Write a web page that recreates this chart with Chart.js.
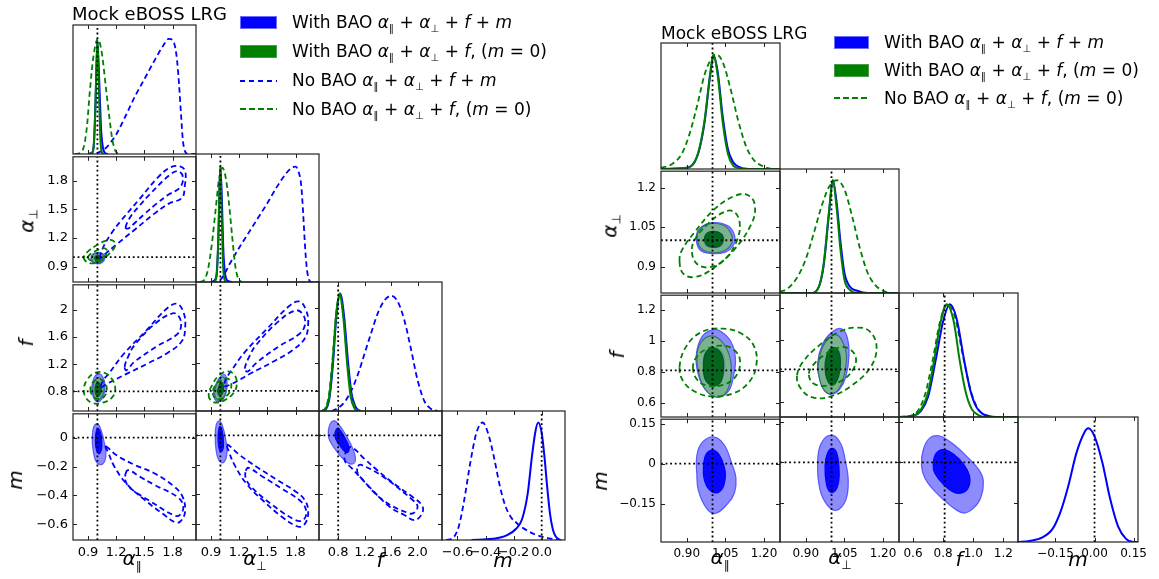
<!DOCTYPE html>
<html>
<head>
<meta charset="utf-8">
<title>Mock eBOSS LRG</title>
<script src="https://cdn.jsdelivr.net/npm/chart.js@4.4.1/dist/chart.umd.min.js"></script>
<style>
  html, body { margin: 0; padding: 0; background: #fff; }
  #page { position: relative; width: 1159px; height: 579px; overflow: hidden; font-family: "DejaVu Sans", sans-serif; color: #000; }
  #page canvas { position: absolute; }
  .txt { position: absolute; white-space: nowrap; line-height: 1; will-change: transform; }
  .c { transform: translate(-50%, -50%); }
  .rot { transform: translate(-50%, -50%) rotate(-90deg); }
  .it { font-style: italic; }
  .sb { font-size: 60%; vertical-align: -0.35em; }
  .swatch { position: absolute; box-sizing: border-box; }
  .dash { position: absolute; height: 2px; }
</style>
</head>
<body>
<div id="page"></div>
<script>
// ---------------- left triangle: axes ----------------
const leftAlphaRange = [0.74, 2.05];
const leftFRange = [0.51, 2.37];
const leftMRange = [-0.71, 0.166];
const leftAlphaTicks = [0.9, 1.2, 1.5, 1.8];
const leftAlphaTickLabels = ["0.9", "1.2", "1.5", "1.8"];
const leftFTicks = [0.8, 1.2, 1.6, 2.0];
const leftFTickLabelsX = ["0.8", "1.2", "1.6", "2.0"];
const leftFTickLabelsY = ["0.8", "1.2", "1.6", "2"];
const leftMTicks = [-0.6, -0.4, -0.2, 0];
const leftMTickLabelsX = ["−0.6", "−0.4", "−0.2", "0.0"];
const leftMTickLabelsY = ["−0.6", "−0.4", "−0.2", "0"];
const leftTruth = [1.0, 1.0, 0.8, 0.0];
const leftDiagMax = 1.12;

// ---------------- right triangle: axes ----------------
const rightAlphaRange = [0.8, 1.262];
const rightFRange = [0.507, 1.297];
const rightMRange = [-0.294, 0.167];
const rightAlphaTicks = [0.9, 1.05, 1.2];
const rightAlphaTickLabelsX = ["0.90", "1.05", "1.20"];
const rightAlphaTickLabelsY = ["0.9", "1.05", "1.2"];
const rightFTicks = [0.6, 0.8, 1.0, 1.2];
const rightFTickLabelsX = ["0.6", "0.8", "1.0", "1.2"];
const rightFTickLabelsY = ["0.6", "0.8", "1", "1.2"];
const rightMTicks = [-0.15, 0, 0.15];
const rightMTickLabelsX = ["−0.15", "0.00", "0.15"];
const rightMTickLabelsY = ["−0.15", "0", "0.15"];
const rightTruth = [1.0, 1.0, 0.81, 0.0];
const rightDiagMax = 1.1;

// ---------------- left triangle: 1D posteriors [value, density] ----------------
const lAparBao = [[0.9,0],[0.94,0.01],[0.96,0.06],[0.98,0.45],[1.0,0.98],[1.02,0.62],[1.04,0.2],[1.06,0.05],[1.08,0.01],[1.11,0]];
const lAparBaoM0 = [[0.92,0],[0.95,0.02],[0.97,0.2],[0.985,0.62],[1.0,1.0],[1.015,0.6],[1.03,0.16],[1.045,0.02],[1.07,0]];
const lAparNoBao = [[0.9,0],[1.0,0.01],[1.05,0.03],[1.1,0.06],[1.15,0.11],[1.2,0.17],[1.3,0.33],[1.4,0.5],[1.5,0.65],[1.6,0.8],[1.7,0.94],[1.76,1.0],[1.8,0.99],[1.83,0.92],[1.85,0.8],[1.87,0.6],[1.89,0.35],[1.91,0.12],[1.93,0.03],[1.96,0],[2.05,0]];
const lAparNoBaoM0 = [[0.76,0],[0.82,0.01],[0.86,0.08],[0.89,0.25],[0.92,0.55],[0.96,0.86],[1.005,1.0],[1.05,0.86],[1.09,0.58],[1.13,0.3],[1.16,0.12],[1.19,0.03],[1.23,0]];

const lAperpBao = [[0.9,0],[0.95,0.03],[0.975,0.3],[0.99,0.8],[1.0,1.0],[1.015,0.75],[1.03,0.3],[1.05,0.07],[1.08,0.01],[1.12,0]];
const lAperpBaoM0 = [[0.93,0],[0.96,0.05],[0.98,0.45],[0.998,1.02],[1.015,0.55],[1.03,0.12],[1.05,0.01],[1.07,0]];
const lAperpNoBao = [[0.9,0],[1.0,0.02],[1.05,0.08],[1.1,0.16],[1.2,0.3],[1.3,0.43],[1.4,0.56],[1.5,0.69],[1.6,0.83],[1.7,0.95],[1.76,1.0],[1.8,1.01],[1.83,0.97],[1.86,0.85],[1.88,0.62],[1.9,0.33],[1.92,0.12],[1.94,0.03],[1.97,0],[2.05,0]];
const lAperpNoBaoM0 = [[0.78,0],[0.83,0.02],[0.87,0.12],[0.91,0.34],[0.95,0.64],[0.985,0.9],[1.02,1.0],[1.055,0.92],[1.09,0.7],[1.125,0.4],[1.16,0.13],[1.19,0.03],[1.23,0]];

const lFBao = [[0.55,0],[0.62,0.02],[0.67,0.12],[0.72,0.4],[0.77,0.8],[0.83,1.02],[0.89,0.82],[0.95,0.42],[1.0,0.16],[1.06,0.04],[1.12,0]];
const lFBaoM0 = [[0.55,0],[0.62,0.03],[0.67,0.14],[0.72,0.45],[0.77,0.84],[0.82,1.02],[0.88,0.8],[0.94,0.38],[0.99,0.12],[1.05,0.02],[1.1,0]];
const lFNoBao = [[0.7,0],[0.78,0.02],[0.9,0.08],[1.0,0.18],[1.1,0.32],[1.2,0.5],[1.3,0.68],[1.4,0.85],[1.5,0.96],[1.6,1.0],[1.7,0.95],[1.8,0.79],[1.9,0.54],[2.0,0.27],[2.1,0.09],[2.2,0.02],[2.3,0]];
const lFNoBaoM0 = [[0.55,0],[0.61,0.03],[0.66,0.14],[0.71,0.42],[0.77,0.85],[0.82,1.0],[0.88,0.82],[0.94,0.42],[1.0,0.14],[1.07,0.03],[1.14,0]];

const lMBao = [[-0.5,0],[-0.35,0.01],[-0.25,0.04],[-0.18,0.1],[-0.14,0.18],[-0.1,0.4],[-0.07,0.72],[-0.045,0.94],[-0.025,1.02],[0.0,0.93],[0.02,0.72],[0.04,0.45],[0.06,0.22],[0.08,0.09],[0.1,0.03],[0.13,0]];
const lMNoBao = [[-0.68,0],[-0.63,0.02],[-0.59,0.12],[-0.55,0.36],[-0.51,0.66],[-0.465,0.93],[-0.42,1.02],[-0.38,0.92],[-0.34,0.72],[-0.3,0.48],[-0.26,0.3],[-0.22,0.2],[-0.18,0.15],[-0.14,0.11],[-0.1,0.08],[-0.05,0.05],[0.0,0.03],[0.05,0.015],[0.1,0.005],[0.16,0]];

// ---------------- left triangle: 2D contours [x, y] ----------------
const lAparAperpBao95 = [[0.93,0.99],[0.95,0.945],[1.0,0.93],[1.05,0.945],[1.08,0.99],[1.06,1.035],[1.01,1.05],[0.955,1.035]];
const lAparAperpBao68 = [[0.965,0.99],[0.975,0.965],[1.0,0.958],[1.03,0.965],[1.045,0.99],[1.03,1.015],[1.005,1.022],[0.978,1.015]];
const lAparAperpBaoM0_95 = [[0.94,0.99],[0.955,0.952],[1.0,0.94],[1.045,0.952],[1.065,0.99],[1.05,1.03],[1.005,1.042],[0.958,1.028]];
const lAparAperpBaoM0_68 = [[0.972,0.99],[0.98,0.97],[1.0,0.964],[1.022,0.97],[1.032,0.99],[1.022,1.01],[1.0,1.016],[0.98,1.01]];
const lAparAperpNoBao95 = [[1.03,0.99],[1.06,1.1],[1.15,1.25],[1.25,1.38],[1.45,1.61],[1.65,1.84],[1.78,1.94],[1.88,1.95],[1.935,1.9],[1.93,1.74],[1.9,1.62],[1.76,1.56],[1.6,1.45],[1.4,1.29],[1.2,1.13],[1.09,1.04]];
const lAparAperpNoBao68 = [[1.3,1.31],[1.35,1.42],[1.45,1.54],[1.56,1.66],[1.77,1.86],[1.86,1.9],[1.91,1.84],[1.88,1.73],[1.75,1.65],[1.63,1.56],[1.5,1.45],[1.4,1.36],[1.33,1.3]];
const lAparAperpNoBaoM0_95 = [[0.855,1.0],[0.88,0.955],[0.94,0.935],[1.02,0.955],[1.12,1.03],[1.185,1.11],[1.17,1.17],[1.1,1.175],[1.0,1.13],[0.9,1.06]];
const lAparAperpNoBaoM0_68 = [[0.9,1.0],[0.92,0.97],[0.97,0.955],[1.04,0.975],[1.095,1.03],[1.1,1.075],[1.06,1.095],[0.99,1.07],[0.93,1.035]];

const lAparFBao95 = [[0.94,0.85],[0.955,0.72],[1.0,0.645],[1.05,0.69],[1.08,0.82],[1.07,0.97],[1.02,1.06],[0.965,1.0]];
const lAparFBao68 = [[0.97,0.84],[0.98,0.75],[1.005,0.72],[1.035,0.75],[1.05,0.83],[1.04,0.92],[1.01,0.95],[0.98,0.92]];
const lAparFBaoM0_95 = [[0.95,0.83],[0.965,0.72],[1.0,0.67],[1.04,0.71],[1.07,0.82],[1.06,0.94],[1.015,1.0],[0.97,0.95]];
const lAparFBaoM0_68 = [[0.975,0.82],[0.985,0.75],[1.005,0.73],[1.03,0.76],[1.04,0.83],[1.03,0.9],[1.005,0.93],[0.985,0.9]];
const lAparFNoBao95 = [[1.04,0.86],[1.1,0.91],[1.3,1.05],[1.55,1.22],[1.75,1.37],[1.9,1.54],[1.935,1.75],[1.92,1.95],[1.85,2.09],[1.74,2.02],[1.53,1.71],[1.28,1.35],[1.12,1.06],[1.06,0.96]];
const lAparFNoBao68 = [[1.29,1.16],[1.33,1.32],[1.39,1.47],[1.6,1.78],[1.8,1.95],[1.87,1.9],[1.89,1.75],[1.84,1.63],[1.63,1.46],[1.39,1.23],[1.31,1.11]];
const lAparFNoBaoM0_95 = [[0.855,0.82],[0.88,0.7],[0.95,0.625],[1.05,0.63],[1.15,0.7],[1.19,0.82],[1.16,0.97],[1.08,1.07],[0.98,1.075],[0.89,0.97]];
const lAparFNoBaoM0_68 = [[0.925,0.83],[0.945,0.74],[1.0,0.69],[1.07,0.72],[1.1,0.82],[1.08,0.93],[1.02,0.98],[0.95,0.93]];

const lAperpFBao95 = [[0.928,0.78],[0.94,0.68],[0.98,0.645],[1.03,0.68],[1.065,0.8],[1.07,0.95],[1.04,1.04],[0.97,0.95]];
const lAperpFBao68 = [[0.965,0.8],[0.975,0.74],[0.995,0.72],[1.025,0.75],[1.04,0.83],[1.035,0.91],[1.01,0.94],[0.98,0.88]];
const lAperpFBaoM0_95 = [[0.94,0.78],[0.95,0.7],[0.985,0.665],[1.03,0.7],[1.06,0.8],[1.055,0.93],[1.025,1.0],[0.97,0.93]];
const lAperpFBaoM0_68 = [[0.97,0.8],[0.98,0.75],[0.997,0.73],[1.02,0.76],[1.032,0.82],[1.028,0.89],[1.008,0.92],[0.985,0.87]];
const lAperpFNoBao95 = [[1.04,0.87],[1.12,0.9],[1.32,1.05],[1.56,1.22],[1.76,1.38],[1.9,1.56],[1.935,1.78],[1.91,1.97],[1.84,2.09],[1.73,2.02],[1.5,1.7],[1.26,1.36],[1.11,1.08],[1.06,0.97]];
const lAperpFNoBao68 = [[1.26,1.12],[1.31,1.3],[1.38,1.46],[1.6,1.78],[1.8,1.96],[1.88,1.9],[1.9,1.75],[1.84,1.62],[1.62,1.44],[1.38,1.2],[1.29,1.08]];
const lAperpFNoBaoM0_95 = [[0.875,0.74],[0.9,0.66],[0.96,0.63],[1.05,0.67],[1.14,0.77],[1.175,0.9],[1.15,1.03],[1.08,1.08],[0.99,1.03],[0.91,0.88]];
const lAperpFNoBaoM0_68 = [[0.92,0.77],[0.94,0.7],[0.99,0.68],[1.06,0.72],[1.11,0.82],[1.11,0.93],[1.07,0.98],[1.0,0.95],[0.94,0.87]];

const lAparMBao95 = [[0.945,0.0],[0.96,0.075],[1.0,0.098],[1.035,0.06],[1.075,-0.04],[1.09,-0.13],[1.05,-0.185],[0.99,-0.17],[0.955,-0.09]];
const lAparMBao68 = [[0.978,-0.01],[0.99,0.05],[1.01,0.062],[1.035,0.03],[1.048,-0.05],[1.035,-0.1],[1.01,-0.11],[0.985,-0.07]];
const lAparMNoBao95 = [[1.09,-0.06],[1.2,-0.12],[1.4,-0.19],[1.6,-0.245],[1.8,-0.33],[1.9,-0.4],[1.935,-0.5],[1.9,-0.57],[1.84,-0.59],[1.7,-0.53],[1.5,-0.43],[1.31,-0.32],[1.18,-0.2],[1.12,-0.11]];
const lAparMNoBao68 = [[1.3,-0.25],[1.33,-0.225],[1.45,-0.27],[1.6,-0.325],[1.86,-0.415],[1.915,-0.48],[1.88,-0.535],[1.82,-0.54],[1.56,-0.44],[1.35,-0.35],[1.3,-0.3]];

const lAperpMBao95 = [[0.945,0.0],[0.955,0.07],[0.99,0.098],[1.025,0.06],[1.06,-0.04],[1.068,-0.13],[1.03,-0.185],[0.98,-0.165],[0.952,-0.09]];
const lAperpMBao68 = [[0.975,-0.01],[0.985,0.05],[1.0,0.062],[1.02,0.03],[1.033,-0.05],[1.025,-0.1],[1.0,-0.11],[0.98,-0.07]];
const lAperpMNoBao95 = [[1.07,-0.06],[1.2,-0.13],[1.4,-0.22],[1.6,-0.3],[1.8,-0.38],[1.9,-0.44],[1.935,-0.52],[1.9,-0.6],[1.83,-0.62],[1.65,-0.55],[1.45,-0.44],[1.28,-0.33],[1.15,-0.2],[1.09,-0.11]];
const lAperpMNoBao68 = [[1.27,-0.24],[1.3,-0.22],[1.45,-0.28],[1.65,-0.36],[1.86,-0.45],[1.915,-0.52],[1.88,-0.575],[1.8,-0.575],[1.55,-0.47],[1.33,-0.35],[1.27,-0.29]];

const lFMBao95 = [[0.65,0.0],[0.67,0.07],[0.73,0.1],[0.8,0.08],[0.92,0.0],[1.03,-0.1],[1.06,-0.17],[1.0,-0.195],[0.9,-0.17],[0.78,-0.11],[0.69,-0.05]];
const lFMBao68 = [[0.75,0.0],[0.77,0.04],[0.81,0.045],[0.88,0.0],[0.95,-0.06],[0.965,-0.1],[0.93,-0.117],[0.86,-0.09],[0.78,-0.04]];
const lFMNoBao95 = [[0.93,-0.1],[1.0,-0.08],[1.2,-0.16],[1.4,-0.24],[1.65,-0.33],[1.93,-0.42],[2.06,-0.47],[2.08,-0.52],[1.96,-0.575],[1.8,-0.54],[1.58,-0.485],[1.23,-0.33],[1.0,-0.22],[0.9,-0.17]];
const lFMNoBao68 = [[1.1,-0.21],[1.15,-0.2],[1.48,-0.28],[1.93,-0.44],[2.0,-0.48],[1.96,-0.52],[1.88,-0.53],[1.48,-0.44],[1.15,-0.29],[1.09,-0.25]];

// ---------------- right triangle: 1D posteriors ----------------
const rAparBao = [[0.8,0],[0.9,0.01],[0.93,0.06],[0.95,0.18],[0.97,0.42],[0.99,0.8],[1.005,0.98],[1.02,0.85],[1.04,0.45],[1.06,0.17],[1.08,0.06],[1.1,0.02],[1.14,0],[1.262,0]];
const rAparBaoM0 = [[0.8,0],[0.9,0.01],[0.93,0.06],[0.95,0.19],[0.97,0.44],[0.99,0.82],[1.003,1.0],[1.02,0.82],[1.04,0.4],[1.06,0.13],[1.08,0.03],[1.1,0.01],[1.14,0],[1.262,0]];
const rAparNoBaoM0 = [[0.8,0.01],[0.84,0.04],[0.88,0.13],[0.91,0.3],[0.94,0.55],[0.97,0.83],[1.0,0.98],[1.015,1.0],[1.04,0.93],[1.07,0.7],[1.1,0.42],[1.13,0.2],[1.16,0.08],[1.2,0.02],[1.24,0],[1.262,0]];

const rAperpBao = [[0.8,0],[0.92,0],[0.95,0.05],[0.97,0.25],[0.99,0.7],[1.005,1.0],[1.02,0.8],[1.035,0.45],[1.05,0.18],[1.07,0.06],[1.1,0.02],[1.14,0],[1.262,0]];
const rAperpBaoM0 = [[0.8,0],[0.92,0],[0.95,0.05],[0.97,0.27],[0.99,0.72],[1.005,1.0],[1.02,0.75],[1.035,0.38],[1.05,0.12],[1.07,0.03],[1.1,0],[1.262,0]];
const rAperpNoBaoM0 = [[0.8,0.01],[0.83,0.04],[0.87,0.15],[0.9,0.3],[0.93,0.52],[0.96,0.76],[0.99,0.94],[1.02,1.0],[1.05,0.92],[1.08,0.68],[1.11,0.4],[1.14,0.18],[1.17,0.07],[1.2,0.02],[1.24,0],[1.262,0]];

const rFBao = [[0.507,0],[0.6,0.01],[0.65,0.05],[0.7,0.18],[0.75,0.5],[0.8,0.85],[0.845,1.0],[0.89,0.87],[0.94,0.5],[0.98,0.24],[1.02,0.09],[1.06,0.03],[1.1,0.01],[1.15,0],[1.297,0]];
const rFBaoM0 = [[0.507,0],[0.6,0.01],[0.65,0.06],[0.7,0.22],[0.74,0.5],[0.78,0.82],[0.823,1.0],[0.87,0.85],[0.91,0.5],[0.95,0.22],[0.99,0.07],[1.03,0.02],[1.08,0],[1.297,0]];
const rFNoBaoM0 = [[0.507,0],[0.58,0.01],[0.63,0.05],[0.68,0.2],[0.73,0.5],[0.78,0.85],[0.83,1.0],[0.88,0.88],[0.93,0.55],[0.98,0.25],[1.02,0.1],[1.06,0.03],[1.12,0],[1.297,0]];

const rMBao = [[-0.294,0],[-0.25,0.01],[-0.2,0.04],[-0.16,0.12],[-0.13,0.27],[-0.1,0.5],[-0.07,0.78],[-0.04,0.96],[-0.024,1.0],[0.0,0.93],[0.03,0.7],[0.06,0.38],[0.09,0.14],[0.12,0.03],[0.15,0],[0.167,0]];

// ---------------- right triangle: 2D contours ----------------
const rAparAperpBao95 = [[0.937,1.01],[0.95,0.965],[0.99,0.95],[1.05,0.955],[1.083,0.985],[1.085,1.02],[1.06,1.055],[1.0,1.067],[0.95,1.045]];
const rAparAperpBao68 = [[0.967,1.005],[0.975,0.98],[1.0,0.972],[1.03,0.976],[1.044,1.0],[1.035,1.025],[1.005,1.035],[0.978,1.028]];
const rAparAperpBaoM0_95 = [[0.94,1.01],[0.955,0.97],[0.995,0.953],[1.045,0.96],[1.075,0.99],[1.07,1.03],[1.04,1.058],[0.99,1.063],[0.952,1.042]];
const rAparAperpBaoM0_68 = [[0.969,1.004],[0.978,0.981],[1.003,0.973],[1.03,0.979],[1.042,1.002],[1.033,1.025],[1.005,1.034],[0.978,1.026]];
const rAparAperpNoBaoM0_95 = [[0.872,0.92],[0.885,0.875],[0.925,0.86],[0.99,0.885],[1.08,0.96],[1.15,1.06],[1.165,1.13],[1.14,1.17],[1.09,1.17],[1.01,1.12],[0.93,1.03],[0.88,0.96]];
const rAparAperpNoBaoM0_68 = [[0.92,0.955],[0.94,0.91],[0.99,0.898],[1.05,0.93],[1.095,1.0],[1.105,1.07],[1.08,1.11],[1.04,1.105],[0.98,1.06],[0.93,1.0]];

const rAparFBao95 = [[0.937,0.91],[0.945,0.78],[0.975,0.68],[1.02,0.638],[1.06,0.67],[1.08,0.76],[1.089,0.89],[1.07,1.0],[1.03,1.065],[1.0,1.072],[0.96,1.03]];
const rAparFBao68 = [[0.965,0.84],[0.975,0.75],[1.0,0.71],[1.03,0.73],[1.045,0.8],[1.045,0.9],[1.025,0.95],[0.995,0.955],[0.97,0.92]];
const rAparFBaoM0_95 = [[0.94,0.92],[0.945,0.8],[0.97,0.69],[1.01,0.638],[1.05,0.66],[1.07,0.75],[1.072,0.85],[1.055,0.95],[1.02,1.02],[0.985,1.03],[0.955,0.99]];
const rAparFBaoM0_68 = [[0.965,0.83],[0.972,0.75],[1.0,0.71],[1.03,0.73],[1.042,0.8],[1.04,0.89],[1.02,0.945],[0.99,0.95],[0.97,0.91]];
const rAparFNoBaoM0_95 = [[0.872,0.83],[0.89,0.73],[0.94,0.665],[1.0,0.64],[1.08,0.66],[1.14,0.73],[1.17,0.84],[1.16,0.97],[1.11,1.05],[1.04,1.08],[0.96,1.06],[0.9,0.97]];
const rAparFNoBaoM0_68 = [[0.924,0.83],[0.94,0.75],[0.98,0.71],[1.04,0.715],[1.09,0.77],[1.107,0.87],[1.085,0.94],[1.04,0.97],[0.98,0.95],[0.94,0.9]];

const rAperpFBao95 = [[0.946,0.85],[0.955,0.74],[0.975,0.67],[1.0,0.652],[1.03,0.68],[1.055,0.76],[1.068,0.9],[1.06,1.02],[1.037,1.07],[1.0,1.045],[0.965,0.97]];
const rAperpFBao68 = [[0.975,0.83],[0.985,0.75],[1.0,0.72],[1.02,0.74],[1.032,0.81],[1.035,0.9],[1.02,0.95],[0.995,0.93],[0.98,0.89]];
const rAperpFBaoM0_95 = [[0.948,0.83],[0.955,0.74],[0.975,0.67],[1.0,0.655],[1.03,0.69],[1.05,0.78],[1.058,0.9],[1.045,0.98],[1.02,1.03],[0.99,1.01],[0.962,0.94]];
const rAperpFBaoM0_68 = [[0.975,0.82],[0.982,0.75],[1.0,0.71],[1.02,0.735],[1.032,0.8],[1.033,0.89],[1.018,0.945],[0.995,0.94],[0.98,0.89]];
const rAperpFNoBaoM0_95 = [[0.866,0.77],[0.88,0.69],[0.926,0.632],[1.0,0.64],[1.08,0.71],[1.15,0.82],[1.175,0.95],[1.15,1.05],[1.1,1.077],[1.03,1.05],[0.95,0.96],[0.89,0.86]];
const rAperpFNoBaoM0_68 = [[0.912,0.775],[0.93,0.72],[0.975,0.705],[1.03,0.73],[1.08,0.8],[1.095,0.88],[1.07,0.94],[1.03,0.95],[0.97,0.9],[0.925,0.83]];

const rAparMBao95 = [[0.939,0.03],[0.96,0.08],[1.007,0.1],[1.046,0.07],[1.075,0.0],[1.091,-0.054],[1.085,-0.11],[1.059,-0.15],[1.01,-0.187],[0.975,-0.165],[0.945,-0.1],[0.939,-0.04]];
const rAparMBao68 = [[0.965,-0.01],[0.975,0.035],[1.0,0.051],[1.025,0.035],[1.045,-0.01],[1.05,-0.045],[1.04,-0.09],[1.014,-0.11],[0.985,-0.095],[0.967,-0.055]];

const rAperpMBao95 = [[0.946,0.0],[0.96,0.07],[1.0,0.1],[1.035,0.07],[1.055,0.0],[1.065,-0.07],[1.055,-0.14],[1.02,-0.177],[0.985,-0.16],[0.955,-0.1]];
const rAperpMBao68 = [[0.975,-0.01],[0.985,0.035],[1.002,0.051],[1.02,0.035],[1.029,-0.02],[1.028,-0.07],[1.015,-0.105],[0.995,-0.11],[0.98,-0.08]];

const rFMBao95 = [[0.656,-0.01],[0.67,0.05],[0.712,0.09],[0.778,0.097],[0.86,0.07],[0.96,0.02],[1.04,-0.03],[1.067,-0.07],[1.05,-0.13],[1.0,-0.17],[0.934,-0.187],[0.85,-0.16],[0.75,-0.11],[0.68,-0.06]];
const rFMBao68 = [[0.734,-0.01],[0.75,0.03],[0.8,0.047],[0.87,0.03],[0.94,-0.01],[0.975,-0.05],[0.97,-0.09],[0.93,-0.112],[0.87,-0.11],[0.8,-0.08],[0.745,-0.04]];

// ---------------- styles ----------------
const blue = "#0000ff";
const green = "#008000";
const fillLook = {
  blue95: { face: "rgba(0,0,255,0.45)", edge: "rgba(70,70,255,0.85)" },
  blue68: { face: "rgba(0,0,255,0.95)", edge: "rgba(0,0,255,1)" },
  green95: { face: "rgba(120,185,125,0.85)", edge: "rgba(50,105,120,0.9)" },
  green68: { face: "rgba(0,100,25,0.95)", edge: "rgba(0,90,40,1)" },
};

Chart.defaults.font.family = "DejaVu Sans";
Chart.defaults.color = "#000";

const page = document.getElementById("page");

function pts(arr) {
  return arr.map(([x, y]) => ({ x, y }));
}

// 1D posterior curve
function line(data, color, dashed) {
  return {
    data: pts(data), showLine: true, pointRadius: 0, fill: false,
    borderColor: color, borderWidth: dashed ? 1.8 : 2, borderDash: dashed ? [5.5, 3.5] : [],
    cubicInterpolationMode: "monotone",
  };
}

// filled confidence region
function shade(data, kind) {
  return {
    data: pts(data), showLine: true, pointRadius: 0, closed: true, tension: 0.4,
    fill: "shape", backgroundColor: fillLook[kind].face,
    borderColor: fillLook[kind].edge, borderWidth: 1.2,
  };
}

// dashed confidence contour
function ring(data, color) {
  return {
    data: pts(data), showLine: true, pointRadius: 0, closed: true, tension: 0.4, fill: false,
    borderColor: color, borderWidth: 1.8, borderDash: [5.5, 3.5],
  };
}

// make closed contours wrap round smoothly
const loopPlugin = {
  id: "loops",
  afterDatasetsUpdate(chart) {
    chart.data.datasets.forEach((ds, i) => {
      if (!ds.closed) return;
      const el = chart.getDatasetMeta(i).dataset;
      el._loop = true;
      el._fullLoop = true;
      el._segments = undefined;
      el._pointsUpdated = false;
    });
  },
};

// axes box + inward ticks on every side
const framePlugin = {
  id: "frame",
  afterDraw(chart, args, o) {
    const { ctx, chartArea: a, scales } = chart;
    const len = 4;
    ctx.save();
    ctx.strokeStyle = "#222";
    ctx.lineWidth = 1;
    ctx.beginPath();
    (o.xTicks || []).forEach((v) => {
      const px = Math.round(scales.x.getPixelForValue(v)) + 0.5;
      ctx.moveTo(px, a.bottom); ctx.lineTo(px, a.bottom - len);
      ctx.moveTo(px, a.top); ctx.lineTo(px, a.top + len);
    });
    (o.yTicks || []).forEach((v) => {
      const py = Math.round(scales.y.getPixelForValue(v)) + 0.5;
      ctx.moveTo(a.left, py); ctx.lineTo(a.left + len, py);
      ctx.moveTo(a.right, py); ctx.lineTo(a.right - len, py);
    });
    ctx.stroke();
    ctx.lineWidth = 1.2;
    ctx.strokeRect(a.left, a.top, a.right - a.left, a.bottom - a.top);
    ctx.restore();
  },
};

function axis(range, ticks, labels, show, size, fit) {
  return {
    type: "linear", min: range[0], max: range[1], display: show,
    afterFit: show ? fit : undefined,
    afterBuildTicks: (s) => { s.ticks = ticks.map((v) => ({ value: v })); },
    ticks: {
      autoSkip: false, maxRotation: 0, minRotation: 0, padding: 5,
      font: { size }, color: "#000",
      callback: (v) => labels[ticks.indexOf(v)],
    },
    grid: { display: false, drawTicks: false },
    border: { display: false },
  };
}

function addPanel(tri, r, c, sets) {
  const diag = r === c;
  const m = { l: 50, r: 30, t: 10, b: 30 };
  const x0 = tri.cols[c], x1 = tri.cols[c + 1], y0 = tri.rows[r], y1 = tri.rows[r + 1];
  const w = x1 - x0 + m.l + m.r, h = y1 - y0 + m.t + m.b;
  const cv = document.createElement("canvas");
  cv.width = w; cv.height = h;
  cv.style.cssText = `left:${x0 - m.l}px;top:${y0 - m.t}px;width:${w}px;height:${h}px;`;
  page.appendChild(cv);

  const xr = tri.ranges[c];
  const yr = diag ? [0, tri.diagMax] : tri.ranges[r];
  const dotted = (d) => ({ data: d, showLine: true, pointRadius: 0, borderColor: "#000", borderWidth: 1.8, borderDash: [1.8, 2.8] });
  const truth = [dotted([{ x: tri.truth[c], y: yr[0] }, { x: tri.truth[c], y: yr[1] }])];
  if (!diag) truth.push(dotted([{ x: xr[0], y: tri.truth[r] }, { x: xr[1], y: tri.truth[r] }]));

  const showX = r === 3, showY = c === 0 && !diag;
  new Chart(cv, {
    type: "scatter",
    data: { datasets: sets.concat(truth).reverse() }, // first listed is painted first
    options: {
      responsive: false, animation: false, events: [],
      layout: { padding: { left: showY ? 0 : m.l, right: m.r, top: m.t, bottom: showX ? 0 : m.b } },
      plugins: {
        legend: { display: false }, tooltip: { enabled: false },
        frame: { xTicks: tri.ticks[c], yTicks: diag ? [] : tri.ticks[r] },
      },
      scales: {
        x: axis(xr, tri.ticks[c], tri.xTickLabels[c], showX, tri.tickFont, (s) => { s.height = m.b; }),
        y: axis(yr, diag ? [] : tri.ticks[r], diag ? [] : tri.yTickLabels[r], showY, tri.tickFont, (s) => { s.width = m.l; }),
      },
    },
    plugins: [loopPlugin, framePlugin],
  });
}

// ---------------- left triangle ----------------
const leftTri = {
  cols: [73, 196, 319, 442, 565], rows: [25, 154, 282, 411, 540],
  ranges: [leftAlphaRange, leftAlphaRange, leftFRange, leftMRange],
  ticks: [leftAlphaTicks, leftAlphaTicks, leftFTicks, leftMTicks],
  xTickLabels: [leftAlphaTickLabels, leftAlphaTickLabels, leftFTickLabelsX, leftMTickLabelsX],
  yTickLabels: [leftAlphaTickLabels, leftAlphaTickLabels, leftFTickLabelsY, leftMTickLabelsY],
  truth: leftTruth, diagMax: leftDiagMax, tickFont: 13,
};

addPanel(leftTri, 0, 0, [line(lAparNoBao, blue, true), line(lAparNoBaoM0, green, true), line(lAparBao, blue), line(lAparBaoM0, green)]);
addPanel(leftTri, 1, 1, [line(lAperpNoBao, blue, true), line(lAperpNoBaoM0, green, true), line(lAperpBao, blue), line(lAperpBaoM0, green)]);
addPanel(leftTri, 2, 2, [line(lFNoBao, blue, true), line(lFBao, blue), line(lFNoBaoM0, green, true), line(lFBaoM0, green)]);
addPanel(leftTri, 3, 3, [line(lMNoBao, blue, true), line(lMBao, blue)]);

addPanel(leftTri, 1, 0, [
  shade(lAparAperpBao95, "blue95"), shade(lAparAperpBao68, "blue68"),
  shade(lAparAperpBaoM0_95, "green95"), shade(lAparAperpBaoM0_68, "green68"),
  ring(lAparAperpNoBao95, blue), ring(lAparAperpNoBao68, blue),
  ring(lAparAperpNoBaoM0_95, green), ring(lAparAperpNoBaoM0_68, green),
]);
addPanel(leftTri, 2, 0, [
  shade(lAparFBao95, "blue95"), shade(lAparFBao68, "blue68"),
  shade(lAparFBaoM0_95, "green95"), shade(lAparFBaoM0_68, "green68"),
  ring(lAparFNoBao95, blue), ring(lAparFNoBao68, blue),
  ring(lAparFNoBaoM0_95, green), ring(lAparFNoBaoM0_68, green),
]);
addPanel(leftTri, 2, 1, [
  shade(lAperpFBao95, "blue95"), shade(lAperpFBao68, "blue68"),
  shade(lAperpFBaoM0_95, "green95"), shade(lAperpFBaoM0_68, "green68"),
  ring(lAperpFNoBao95, blue), ring(lAperpFNoBao68, blue),
  ring(lAperpFNoBaoM0_95, green), ring(lAperpFNoBaoM0_68, green),
]);
addPanel(leftTri, 3, 0, [shade(lAparMBao95, "blue95"), shade(lAparMBao68, "blue68"), ring(lAparMNoBao95, blue), ring(lAparMNoBao68, blue)]);
addPanel(leftTri, 3, 1, [shade(lAperpMBao95, "blue95"), shade(lAperpMBao68, "blue68"), ring(lAperpMNoBao95, blue), ring(lAperpMNoBao68, blue)]);
addPanel(leftTri, 3, 2, [shade(lFMBao95, "blue95"), shade(lFMBao68, "blue68"), ring(lFMNoBao95, blue), ring(lFMNoBao68, blue)]);

// ---------------- right triangle ----------------
const rightTri = {
  cols: [661, 780, 899, 1018, 1138], rows: [43, 169, 293, 417, 542],
  ranges: [rightAlphaRange, rightAlphaRange, rightFRange, rightMRange],
  ticks: [rightAlphaTicks, rightAlphaTicks, rightFTicks, rightMTicks],
  xTickLabels: [rightAlphaTickLabelsX, rightAlphaTickLabelsX, rightFTickLabelsX, rightMTickLabelsX],
  yTickLabels: [rightAlphaTickLabelsY, rightAlphaTickLabelsY, rightFTickLabelsY, rightMTickLabelsY],
  truth: rightTruth, diagMax: rightDiagMax, tickFont: 12,
};

addPanel(rightTri, 0, 0, [line(rAparNoBaoM0, green, true), line(rAparBao, blue), line(rAparBaoM0, green)]);
addPanel(rightTri, 1, 1, [line(rAperpNoBaoM0, green, true), line(rAperpBao, blue), line(rAperpBaoM0, green)]);
addPanel(rightTri, 2, 2, [line(rFNoBaoM0, green, true), line(rFBao, blue), line(rFBaoM0, green)]);
addPanel(rightTri, 3, 3, [line(rMBao, blue)]);

addPanel(rightTri, 1, 0, [
  shade(rAparAperpBao95, "blue95"), shade(rAparAperpBao68, "blue68"),
  shade(rAparAperpBaoM0_95, "green95"), shade(rAparAperpBaoM0_68, "green68"),
  ring(rAparAperpNoBaoM0_95, green), ring(rAparAperpNoBaoM0_68, green),
]);
addPanel(rightTri, 2, 0, [
  shade(rAparFBao95, "blue95"), shade(rAparFBao68, "blue68"),
  shade(rAparFBaoM0_95, "green95"), shade(rAparFBaoM0_68, "green68"),
  ring(rAparFNoBaoM0_95, green), ring(rAparFNoBaoM0_68, green),
]);
addPanel(rightTri, 2, 1, [
  shade(rAperpFBao95, "blue95"), shade(rAperpFBao68, "blue68"),
  shade(rAperpFBaoM0_95, "green95"), shade(rAperpFBaoM0_68, "green68"),
  ring(rAperpFNoBaoM0_95, green), ring(rAperpFNoBaoM0_68, green),
]);
addPanel(rightTri, 3, 0, [shade(rAparMBao95, "blue95"), shade(rAparMBao68, "blue68")]);
addPanel(rightTri, 3, 1, [shade(rAperpMBao95, "blue95"), shade(rAperpMBao68, "blue68")]);
addPanel(rightTri, 3, 2, [shade(rFMBao95, "blue95"), shade(rFMBao68, "blue68")]);

// ---------------- text: titles, axis labels, legends ----------------
const A_PAR = '<span class="it">α</span><span class="sb">∥</span>';
const A_PERP = '<span class="it">α</span><span class="sb">⊥</span>';
const F = '<span class="it">f</span>';
const M = '<span class="it">m</span>';

function addText(html, x, y, size, cls) {
  const d = document.createElement("div");
  d.className = "txt " + cls;
  d.style.left = x + "px";
  // left-aligned text is placed by its top edge on a whole pixel
  d.style.top = (cls === "l" ? Math.round(y - size / 2) : y) + "px";
  d.style.fontSize = size + "px";
  d.innerHTML = html;
  page.appendChild(d);
}

addText("Mock eBOSS LRG", 72, 14, 18, "l");
addText("Mock eBOSS LRG", 661, 33, 17, "l");

const axisNames = [A_PAR, A_PERP, F, M];
// left x labels / y labels
[132, 255, 380, 503].forEach((x, i) => addText(axisNames[i], x, 560, 20, "c"));
addText(A_PERP, 28, 221, 20, "rot");
addText(F, 26, 343, 20, "rot");
addText(M, 15, 480, 20, "rot");
// right x labels / y labels
[720, 840, 959, 1078].forEach((x, i) => addText(axisNames[i], x, 559, 20, "c"));
addText(A_PERP, 611, 226, 20, "rot");
addText(F, 617, 355, 20, "rot");
addText(M, 600, 481, 20, "rot");

const legendLabels = [
  `With BAO ${A_PAR} + ${A_PERP} + ${F} + ${M}`,
  `With BAO ${A_PAR} + ${A_PERP} + ${F}, (${M} = 0)`,
  `No BAO ${A_PAR} + ${A_PERP} + ${F} + ${M}`,
  `No BAO ${A_PAR} + ${A_PERP} + ${F}, (${M} = 0)`,
];
const legendKinds = [
  { color: blue, dashed: false },
  { color: green, dashed: false },
  { color: blue, dashed: true },
  { color: green, dashed: true },
];

function addLegend(x, w, textX, ys, items) {
  items.forEach((k, j) => {
    const kind = legendKinds[k];
    const el = document.createElement("div");
    if (kind.dashed) {
      el.className = "dash";
      el.style.cssText = `left:${x}px;top:${Math.round(ys[j] - 1)}px;width:${w}px;background:repeating-linear-gradient(to right, ${kind.color} 0 5.5px, transparent 5.5px 9px);`;
    } else {
      el.className = "swatch";
      el.style.cssText = `left:${x}px;top:${Math.round(ys[j] - 6.5)}px;width:${w}px;height:13px;background:${kind.color};border:1px solid ${kind.color === blue ? "#6f6fff" : "#4a9a4a"};`;
    }
    page.appendChild(el);
    addText(legendLabels[k], textX, ys[j], 17, "l");
  });
}

addLegend(240, 37, 292, [22.5, 51, 80.5, 109], [0, 1, 2, 3]);
addLegend(834, 35, 884, [42, 70, 98], [0, 1, 3]);
</script>
</body>
</html>
